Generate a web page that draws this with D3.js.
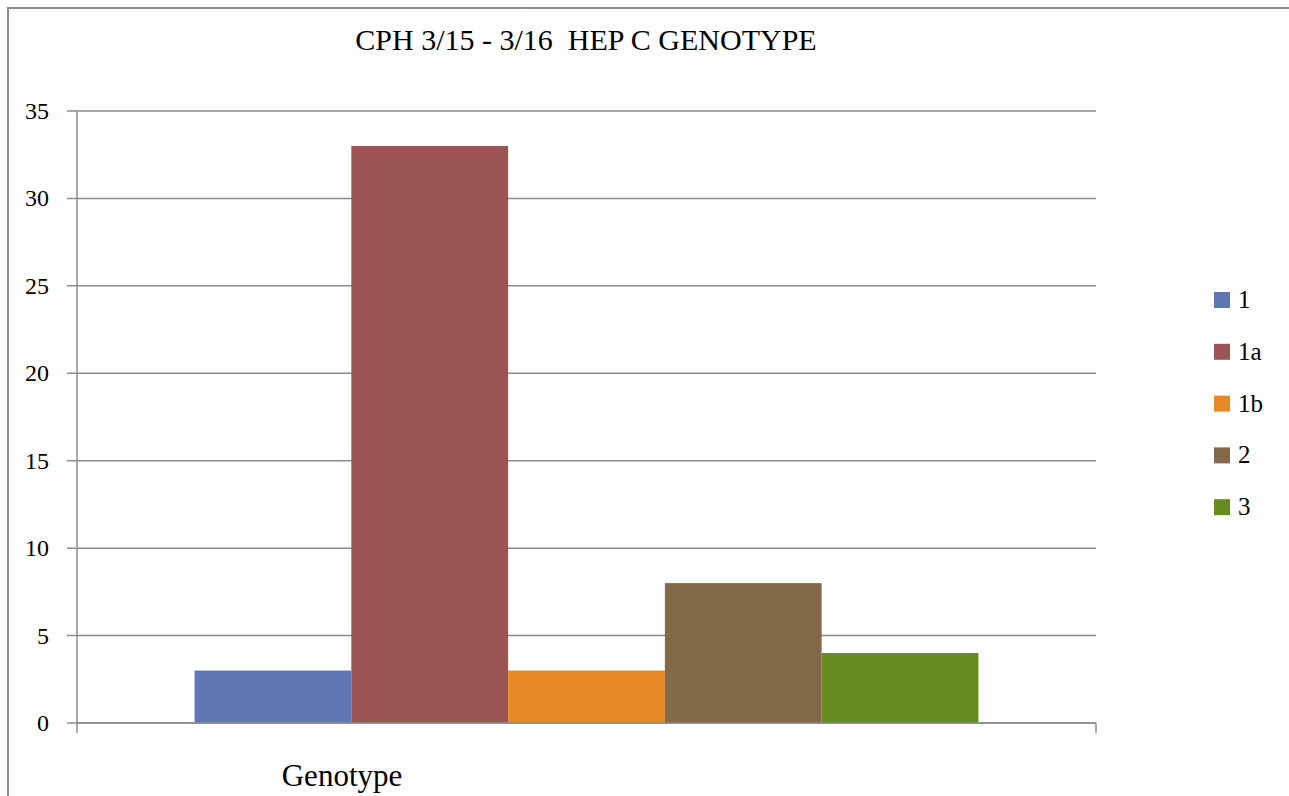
<!DOCTYPE html>
<html>
<head>
<meta charset="utf-8">
<script src="https://cdn.jsdelivr.net/npm/d3@7"></script>
<style>
  body { margin: 0; background: #fff; }
</style>
</head>
<body>
<div id="chart"></div>
<script>
// Data
const categories = ["Genotype"];
const seriesNames = ["1", "1a", "1b", "2", "3"];
const seriesValues = [3, 33, 3, 8, 4];
const colors = ["#5f77b5", "#9c5353", "#e68823", "#84684a", "#668b1f"];
const yTicks = [0, 5, 10, 15, 20, 25, 30, 35];

const W = 1289, H = 796;
const plot = { left: 77, right: 1096, top: 111, bottom: 723 };
const FONT = "'Liberation Serif', 'DejaVu Serif', serif";

const svg = d3.select("#chart")
    .append("svg")
    .attr("width", W)
    .attr("height", H)
    .style("font-family", FONT);

// outer frame (right/bottom edges fall outside the picture)
svg.append("rect")
    .attr("x", 8).attr("y", 8)
    .attr("width", W + 20).attr("height", H + 20)
    .style("fill", "none")
    .style("stroke", "#8c8c8c")
    .style("stroke-width", 2);

// Scales
const yScale = d3.scaleLinear()
    .domain([0, 35])
    .range([plot.bottom, plot.top]);

const xScale = d3.scaleBand()
    .domain(categories)
    .range([plot.left, plot.right]);

// gap width 150% -> bars take 5 / 6.5 of the band
const groupWidth = xScale.bandwidth() * 5 / 6.5;
const xInner = d3.scaleBand()
    .domain(seriesNames)
    .range([0, groupWidth]);
const groupStart = xScale(categories[0]) + (xScale.bandwidth() - groupWidth) / 2;

// gridlines
svg.append("g")
    .selectAll("line")
    .data(yTicks)
    .enter().append("line")
    .attr("x1", plot.left - 10)
    .attr("x2", plot.right)
    .attr("y1", d => yScale(d))
    .attr("y2", d => yScale(d))
    .style("stroke", "#8c8c8c")
    .style("stroke-width", 1.5);

// y axis labels
svg.append("g")
    .selectAll("text")
    .data(yTicks)
    .enter().append("text")
    .attr("x", 49)
    .attr("y", d => yScale(d) + 8)
    .attr("text-anchor", "end")
    .style("font-size", "24px")
    .text(d => d);

// bars
svg.append("g")
    .selectAll("rect")
    .data(seriesValues)
    .enter().append("rect")
    .attr("x", (d, i) => groupStart + xInner(seriesNames[i]))
    .attr("y", d => yScale(d))
    .attr("width", xInner.bandwidth())
    .attr("height", d => yScale(0) - yScale(d))
    .style("fill", (d, i) => colors[i]);

// axes lines
svg.append("line")
    .attr("x1", plot.left).attr("x2", plot.left)
    .attr("y1", plot.top).attr("y2", plot.bottom + 10)
    .style("stroke", "#8c8c8c").style("stroke-width", 1.5);

svg.append("line")
    .attr("x1", plot.left).attr("x2", plot.right)
    .attr("y1", plot.bottom).attr("y2", plot.bottom)
    .style("stroke", "#8c8c8c").style("stroke-width", 1.5);

svg.append("line")
    .attr("x1", plot.right).attr("x2", plot.right)
    .attr("y1", plot.bottom).attr("y2", plot.bottom + 10)
    .style("stroke", "#8c8c8c").style("stroke-width", 1.5);

// category label
svg.append("text")
    .attr("x", 342)
    .attr("y", 786)
    .attr("text-anchor", "middle")
    .style("font-size", "31px")
    .text(categories[0]);

// title
svg.append("text")
    .attr("x", 586)
    .attr("y", 50)
    .attr("text-anchor", "middle")
    .style("font-size", "30px")
    .attr("xml:space", "preserve")
    .text("CPH 3/15 - 3/16  HEP C GENOTYPE");

// legend
const legend = svg.append("g")
    .selectAll("g")
    .data(seriesNames)
    .enter().append("g")
    .attr("transform", (d, i) => `translate(1214,${292 + i * 51.8})`);

legend.append("rect")
    .attr("width", 16)
    .attr("height", 16)
    .style("fill", (d, i) => colors[i]);

legend.append("text")
    .attr("x", 24)
    .attr("y", 16)
    .style("font-size", "25px")
    .text(d => d);
</script>
</body>
</html>
